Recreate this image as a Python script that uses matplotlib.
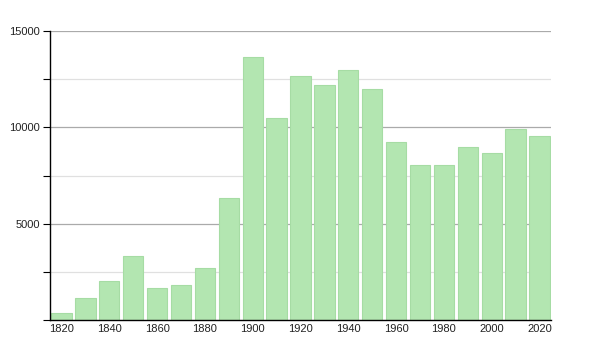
import matplotlib
matplotlib.use("Agg")
import matplotlib.pyplot as plt
from matplotlib.ticker import MultipleLocator

years = [1820, 1830, 1840, 1850, 1860, 1870, 1880, 1890, 1900, 1910, 1920,
         1930, 1940, 1950, 1960, 1970, 1980, 1990, 2000, 2010, 2020]
population = [350, 1130, 2020, 3320, 1660, 1820, 2700, 6350, 13630, 10480, 12660,
              12180, 12960, 11970, 9220, 8060, 8070, 8970, 8680, 9910, 9550]
xtick_labels = [1820, 1840, 1860, 1880, 1900, 1920, 1940, 1960, 1980, 2000, 2020]
ytick_labels = [5000, 10000, 15000]

plt.rcParams['font.family'] = ['Liberation Sans', 'DejaVu Sans']

fig = plt.figure(figsize=(6, 3.5), dpi=100)
ax = fig.add_axes([50/600, 30/350, 501/600, 289/350])

ax.bar(years, population, width=8.5, color='#b3e6b1', edgecolor='#a6dca4',
       linewidth=0.8, zorder=2)

ax.set_xlim(1815.2, 2024.8)
ax.set_ylim(0, 15000)

ax.set_yticks(ytick_labels)
ax.set_yticklabels([str(v) for v in ytick_labels], fontsize=8, color='#222222')
ax.yaxis.set_minor_locator(MultipleLocator(2500))
ax.set_xticks(xtick_labels)
ax.set_xticklabels([str(v) for v in xtick_labels], fontsize=8, color='#222222')

ax.grid(axis='y', which='major', color='#aaaaaa', linewidth=0.9, zorder=0)
ax.grid(axis='y', which='minor', color='#e0e0e0', linewidth=0.9, zorder=0)
ax.set_axisbelow(True)

for s in ['top', 'right']:
    ax.spines[s].set_visible(False)
ax.spines['left'].set_linewidth(1.0)
ax.spines['bottom'].set_linewidth(1.0)

ax.tick_params(axis='y', which='both', length=5, width=0.8, pad=2)
ax.tick_params(axis='x', length=0, pad=3)

fig.savefig('out.png', dpi=100)
